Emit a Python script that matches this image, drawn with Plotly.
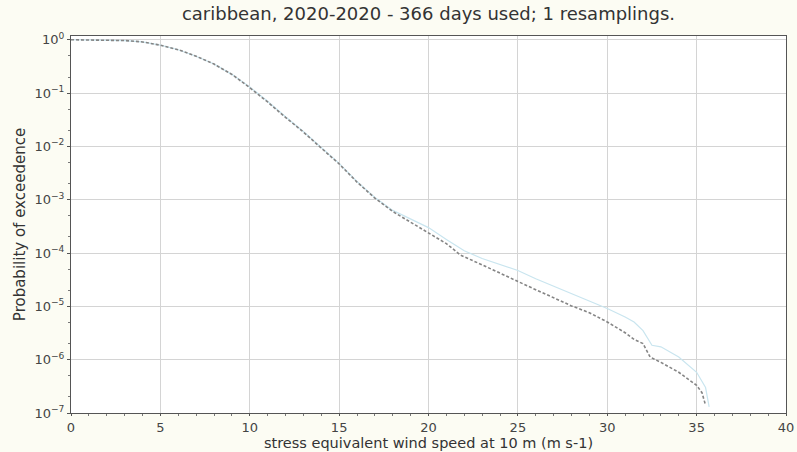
import plotly.graph_objects as go

# wind speed (m s-1) and exceedance probabilities
speed_dashed = [0, 1, 2, 3, 4, 5, 6, 7, 8, 9, 10, 11, 12, 13, 14, 15, 16, 17, 18, 19, 20,
                21, 21.8, 22.5, 23, 24, 25, 26, 27, 28, 29, 30, 31, 31.5, 32, 32.4, 33, 34, 35, 35.3, 35.5]
prob_dashed = [1.0, 0.996, 0.985, 0.965, 0.91, 0.79, 0.65, 0.49, 0.35, 0.224, 0.126,
               6.8e-2, 3.5e-2, 1.86e-2, 9.3e-3, 4.7e-3, 2.14e-3, 1.07e-3, 6.0e-4, 3.8e-4, 2.4e-4,
               1.5e-4, 9.1e-5, 7.2e-5, 6.0e-5, 4.2e-5, 2.9e-5, 2.05e-5, 1.45e-5, 1.02e-5, 7.6e-6,
               5.1e-6, 3.2e-6, 2.4e-6, 2.0e-6, 1.12e-6, 8.9e-7, 5.8e-7, 3.3e-7, 2.4e-7, 1.4e-7]

speed_solid = [0, 1, 2, 3, 4, 5, 6, 7, 8, 9, 10, 11, 12, 13, 14, 15, 16, 17, 18, 19, 20,
               21, 22, 23, 24, 25, 26, 27, 28, 29, 30, 31, 31.5, 32, 32.5, 33, 33.5, 34, 35, 35.5, 35.7]
prob_solid = [1.0, 0.996, 0.985, 0.965, 0.91, 0.79, 0.65, 0.49, 0.35, 0.224, 0.13,
              7.0e-2, 3.6e-2, 1.9e-2, 9.5e-3, 4.8e-3, 2.2e-3, 1.1e-3, 6.3e-4, 4.3e-4, 3.0e-4,
              1.8e-4, 1.1e-4, 7.9e-5, 6.0e-5, 4.7e-5, 3.3e-5, 2.4e-5, 1.7e-5, 1.26e-5, 9.1e-6,
              6.3e-6, 5.1e-6, 3.5e-6, 1.86e-6, 1.74e-6, 1.41e-6, 1.12e-6, 5.8e-7, 3.0e-7, 1.3e-7]

y_tickvals = [1, 1e-1, 1e-2, 1e-3, 1e-4, 1e-5, 1e-6, 1e-7]
y_ticktext = ["10<sup>0</sup>", "10<sup>−1</sup>", "10<sup>−2</sup>", "10<sup>−3</sup>",
              "10<sup>−4</sup>", "10<sup>−5</sup>", "10<sup>−6</sup>", "10<sup>−7</sup>"]

bg = '#fcfcf3'

fig = go.Figure()
fig.add_trace(go.Scatter(x=speed_solid, y=prob_solid, mode='lines',
                         line=dict(color='#c9e5ef', width=1.2), showlegend=False))
fig.add_trace(go.Scatter(x=speed_dashed, y=prob_dashed, mode='lines',
                         line=dict(color='#858585', width=1.6, dash='3px,2px'), showlegend=False))

fig.update_layout(
    width=797, height=452,
    paper_bgcolor=bg, plot_bgcolor='white',
    font=dict(family='DejaVu Sans', color='#333333', size=12),
    title=dict(text='caribbean, 2020-2020 - 366 days used; 1 resamplings.',
               x=0.5, xanchor='center', xref='paper',
               y=1 - 14 / 452, yref='container', yanchor='middle', automargin=False,
               font=dict(size=18, color='#333333')),
    margin=dict(l=71, r=11, t=36, b=39, autoexpand=False),
)
fig.update_xaxes(range=[0, 40], dtick=5, showgrid=True, gridcolor='#d4d4d4', gridwidth=1,
                 showline=True, linecolor='#555555', linewidth=1, mirror=True, automargin=False,
                 ticks='outside', ticklen=2, tickcolor='#555555', zeroline=False,
                 minor=dict(dtick=1, ticks='outside', ticklen=2, tickcolor='#777777', showgrid=False),
                 title=dict(text='stress equivalent wind speed at 10 m (m s-1)', standoff=0,
                            font=dict(size=14.5)),
                 tickfont=dict(size=13, color='#444444'))
fig.update_yaxes(type='log', range=[-7, 0.07], tickvals=y_tickvals, ticktext=y_ticktext,
                 showgrid=True, gridcolor='#d4d4d4', gridwidth=1,
                 showline=True, linecolor='#555555', linewidth=1, mirror=True, automargin=False,
                 ticks='outside', ticklen=3, tickcolor='#555555', zeroline=False,
                 minor=dict(ticks='outside', ticklen=2, tickcolor='#777777', showgrid=False),
                 title=dict(text='Probability of exceedence', standoff=5, font=dict(size=15)),
                 tickfont=dict(size=13, color='#444444'))

# drop the browser's default body margin so the figure sits at the page corner
fig.write_html("out.html", config={'displayModeBar': False},
               post_script="document.body.style.margin='0';document.body.style.background='%s';" % bg)
